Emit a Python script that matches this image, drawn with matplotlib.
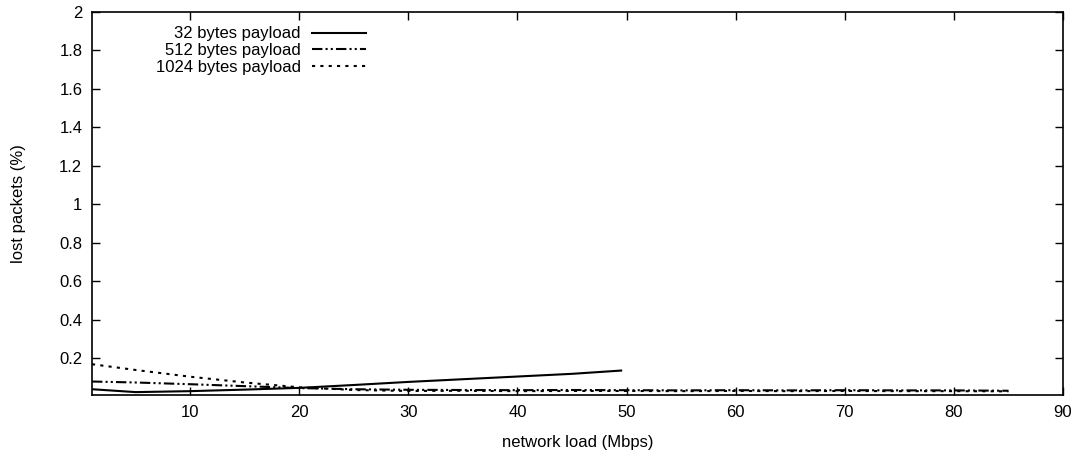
import matplotlib
matplotlib.use("Agg")
import matplotlib.pyplot as plt

plt.rcParams['font.family'] = ['Liberation Sans', 'DejaVu Sans']

# data
x32 = [1, 5, 10, 15, 20, 25, 30, 35, 40, 45, 49.5]
y32 = [0.040, 0.025, 0.030, 0.038, 0.047, 0.062, 0.078, 0.092, 0.106, 0.120, 0.137]

x512 = [1, 5, 10, 15, 20, 25, 30, 35, 40, 45, 50, 55, 60, 65, 70, 75, 80, 85]
y512 = [0.080, 0.075, 0.066, 0.056, 0.046, 0.040, 0.037, 0.036, 0.035, 0.036, 0.035,
        0.034, 0.035, 0.034, 0.035, 0.034, 0.034, 0.032]

x1024 = [1, 5, 10, 15, 20, 25, 30, 35, 40, 45, 50, 55, 60, 65, 70, 75, 80, 85]
y1024 = [0.170, 0.140, 0.105, 0.075, 0.050, 0.036, 0.031, 0.032, 0.030, 0.031, 0.031,
         0.030, 0.031, 0.030, 0.031, 0.030, 0.030, 0.029]

labels = ['32 bytes payload', '512 bytes payload', '1024 bytes payload']
xticks = [10, 20, 30, 40, 50, 60, 70, 80, 90]
yticks = [0.2, 0.4, 0.6, 0.8, 1.0, 1.2, 1.4, 1.6, 1.8, 2.0]
ytick_labels = ['0.2', '0.4', '0.6', '0.8', '1', '1.2', '1.4', '1.6', '1.8', '2']

fig = plt.figure(figsize=(10.9, 4.61), dpi=100)
ax = fig.add_axes([92/1090, 66/461, (1063-92)/1090, (395-12)/461])

ax.plot(x32, y32, color='black', lw=1.5, linestyle='-', label=labels[0])
ax.plot(x512, y512, color='black', lw=1.5, linestyle=(0, (5, 1.5, 1, 1.5, 1, 1.5)), label=labels[1])
ax.plot(x1024, y1024, color='black', lw=1.5, linestyle=(0, (1.5, 2.5)), label=labels[2])

ax.set_xlim(1, 90)
ax.set_ylim(0.01, 2)
ax.set_xticks(xticks)
ax.set_yticks(yticks)
ax.set_yticklabels(ytick_labels)
ax.tick_params(direction='in', top=True, right=True, length=6, width=1,
               labelsize=12, pad=7)
for s in ax.spines.values():
    s.set_linewidth(1.2)

ax.set_xlabel('network load (Mbps)', fontsize=12, labelpad=11)
ax.set_ylabel('lost packets (%)', fontsize=12, labelpad=24)

leg = ax.legend(loc='upper left', bbox_to_anchor=(0.0535, 0.993), frameon=False,
                markerfirst=False, fontsize=12, handlelength=3.2,
                labelspacing=0.1, handletextpad=0.7, borderaxespad=0.3)

fig.savefig('out.png', dpi=100)
